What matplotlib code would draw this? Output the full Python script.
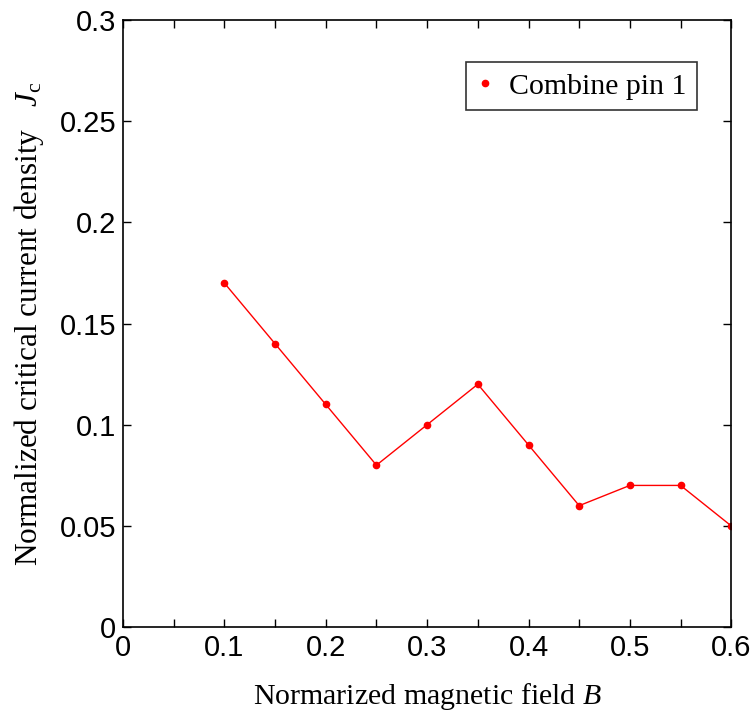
import matplotlib
matplotlib.use("Agg")
import matplotlib.pyplot as plt
from matplotlib.ticker import MultipleLocator

B = [0.1, 0.15, 0.2, 0.25, 0.3, 0.35, 0.4, 0.45, 0.5, 0.55, 0.6]
Jc = [0.17, 0.14, 0.11, 0.08, 0.10, 0.12, 0.09, 0.06, 0.07, 0.07, 0.05]
series_label = "Combine pin 1"
x_ticks = [0, 0.1, 0.2, 0.3, 0.4, 0.5, 0.6]
x_tick_labels = ["0", "0.1", "0.2", "0.3", "0.4", "0.5", "0.6"]
y_ticks = [0, 0.05, 0.1, 0.15, 0.2, 0.25, 0.3]
y_tick_labels = ["0", "0.05", "0.1", "0.15", "0.2", "0.25", "0.3"]

plt.rcParams['mathtext.fontset'] = 'custom'
plt.rcParams['mathtext.rm'] = 'Liberation Serif'
plt.rcParams['mathtext.it'] = 'Liberation Serif:italic'

fig = plt.figure(figsize=(7.5, 7.11), dpi=100)
ax = fig.add_axes([0.164, 0.118, 0.811, 0.854])

ax.plot(B, Jc, color='red', lw=1.0, marker='o', markersize=4.5, label=series_label)

ax.set_xlim(0, 0.6)
ax.set_ylim(0, 0.3)
ax.set_xticks(x_ticks)
ax.set_xticklabels(x_tick_labels, fontfamily='Liberation Sans', fontsize=21)
ax.set_yticks(y_ticks)
ax.set_yticklabels(y_tick_labels, fontfamily='Liberation Sans', fontsize=21)
ax.xaxis.set_minor_locator(MultipleLocator(0.05))
ax.tick_params(which='both', direction='in', top=True, right=True, length=6, width=1, pad=5)
for s in ax.spines.values():
    s.set_linewidth(1.2)

ax.set_xlabel(r"Normarized magnetic field $\mathit{B}$", fontfamily='Liberation Serif', fontsize=21.5, labelpad=14)
ax.set_ylabel(r"Normalized critical current density   $\mathit{J}_\mathrm{c}$", fontfamily='Liberation Serif', fontsize=22.5, labelpad=10)

leg = ax.legend(handles=[plt.Line2D([], [], color='red', marker='o', linestyle='none', markersize=4.5)],
                labels=[series_label], loc='upper right', bbox_to_anchor=(0.944, 0.93),
                prop={'family': 'Liberation Serif', 'size': 21.5}, frameon=True, fancybox=False,
                edgecolor='black', handlelength=0.6, handletextpad=0.5, borderpad=0.35, borderaxespad=0)
leg.get_frame().set_linewidth(1.2)

fig.savefig("out.png", dpi=100)
